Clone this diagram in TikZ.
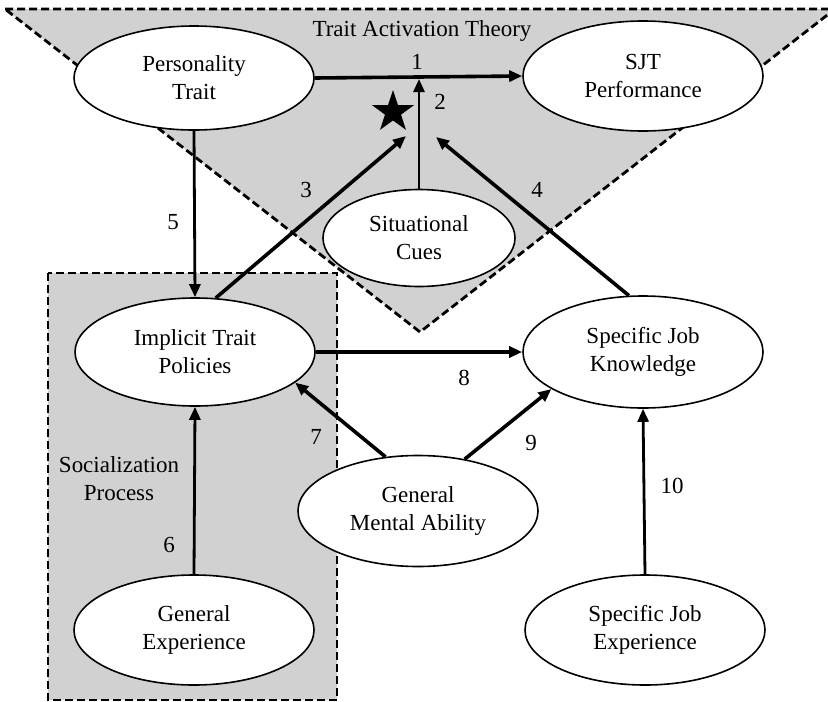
\documentclass[tikz,border=0pt]{standalone}
\usepackage{fontspec}
\setmainfont{Liberation Serif}
\usetikzlibrary{arrows.meta,shapes.geometric}

\begin{document}
\begin{tikzpicture}[
  x=1pt, y=-1pt,
  every node/.style = {font=\fontsize{23}{28}\selectfont, align=center},
  block/.style = {ellipse, draw, fill=white, line width=1.6pt, minimum width=240pt, minimum height=108pt, inner sep=0pt},
  zone/.style = {fill=black!18, draw, dashed, line width=2.8pt, dash pattern=on 8pt off 4pt},
  link/.style = {-{Triangle[length=13pt,width=11pt]}, line width=3.6pt, draw},
  thin link/.style = {link, line width=2.8pt}
]
  \useasboundingbox (0,0) rectangle (828,702);

  % shaded areas
  \draw[zone] (5,9) -- (835,9) -- (420,332) -- cycle;
  \draw[zone] (48,273) rectangle (337,700);
  \node (theory) at (422,31) {Trait Activation Theory};
  \node (social) at (119,479) {Socialization\\Process};

  % constructs
  \node[block, minimum height=104pt] (pt) at (194,78) {Personality\\Trait};
  \node[block, minimum height=110pt] (sjt) at (643,76) {SJT\\Performance};
  \node[block, minimum width=192pt, minimum height=97pt] (sc) at (419,238) {Situational\\Cues};
  \node[block] (itp) at (195,352) {Implicit Trait\\Policies};
  \node[block, minimum height=112pt] (sjk) at (643,352) {Specific Job\\Knowledge};
  \node[block, minimum height=111pt] (gma) at (418,511) {General\\Mental Ability};
  \node[block, minimum height=110pt] (gexp) at (194,630) {General\\Experience};
  \node[block, minimum height=110pt] (sje) at (645,630) {Specific Job\\Experience};
  \node[star, star points=5, star point ratio=2.6, fill=black, inner sep=0pt, minimum size=44pt] (mark) at (393,112) {};

  % free ends of the moderation arrows
  \coordinate (c2) at (419,79);
  \coordinate (c3) at (406,136);
  \coordinate (c4) at (436,137);

  % paths
  \draw[link] (pt.east) -- (sjt.west);
  \draw[thin link] (sc.north) -- (c2);
  \draw[link] (itp.69) -- (c3);
  \draw[link] (sjk.104) -- (c4);
  \draw[thin link] (pt.south) -- (itp.north);
  \draw[thin link] (gexp.north) -- (itp.south);
  \draw[link] (gma.121) -- (itp.-17);
  \draw[link] (itp.east) -- (sjk.west);
  \draw[link] (gma.48) -- (sjk.-158);
  \draw[thin link] (sje.north) -- (sjk.south);

  % path numbers
  \node (n1) at (417,62) {1};
  \node (n2) at (440,102) {2};
  \node (n3) at (306,190) {3};
  \node (n4) at (537,190) {4};
  \node (n5) at (173,222) {5};
  \node (n6) at (169,545) {6};
  \node (n7) at (316,437) {7};
  \node (n8) at (464,378) {8};
  \node (n9) at (531,443) {9};
  \node (n10) at (672,486) {10};
\end{tikzpicture}
\end{document}
